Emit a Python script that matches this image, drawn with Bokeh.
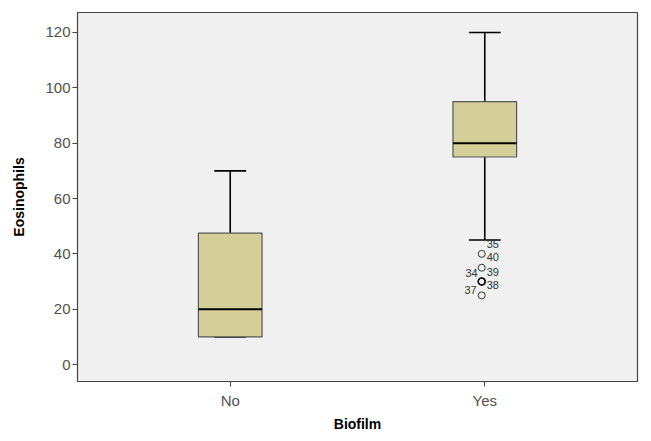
from bokeh.plotting import figure
from bokeh.models import Range1d, FixedTicker, ColumnDataSource
from bokeh.core.properties import value
from bokeh.embed import file_html
from bokeh.resources import INLINE

categories = ["No", "Yes"]
q1 = [10, 75]
median = [20, 80]
q3 = [47.5, 95]
whisker_low = [10, 45]
whisker_high = [70, 120]

outlier_values = [40, 35, 30, 25]
outlier_group = ["Yes", "Yes", "Yes", "Yes"]

label_text = ["35", "40", "34", "39", "38", "37"]
label_value = [40, 40, 35, 35, 30, 25]

# pixel styling for case labels (align, x offset, y offset)
label_style = {
    "35": ("left", 5, -10),
    "40": ("left", 5, 3),
    "34": ("right", -4, 5),
    "39": ("left", 5, 4),
    "38": ("left", 5, 3),
    "37": ("right", -5, -5),
}

xs = [categories.index(c) for c in categories]
box_w = 0.25
cap_w = 0.125

p = figure(width=643, height=435, output_backend="svg", toolbar_location=None,
           x_range=Range1d(-0.6, 1.6), y_range=Range1d(-6.1, 127.2),
           min_border_left=77, min_border_right=6, min_border_top=12, min_border_bottom=54,
           background_fill_color="#f0f0f0", border_fill_color="white")
p.outline_line_color = "#444444"
p.outline_line_width = 1.2
p.grid.visible = False

src = ColumnDataSource(dict(x=xs, q1=q1, q3=q3, med=median, lo=whisker_low, hi=whisker_high,
                            x0=[x - box_w / 2 for x in xs], x1=[x + box_w / 2 for x in xs],
                            c0=[x - cap_w / 2 for x in xs], c1=[x + cap_w / 2 for x in xs]))

p.segment(x0="x", y0="q3", x1="x", y1="hi", source=src, line_color="black", line_width=1.6)
p.segment(x0="x", y0="q1", x1="x", y1="lo", source=src, line_color="black", line_width=1.6)
p.segment(x0="c0", y0="hi", x1="c1", y1="hi", source=src, line_color="black", line_width=1.6)
p.segment(x0="c0", y0="lo", x1="c1", y1="lo", source=src, line_color="black", line_width=1.6)
p.vbar(x="x", width=box_w, bottom="q1", top="q3", source=src,
       fill_color="#d4cf98", line_color="#555555", line_width=1.2)
p.segment(x0="x0", y0="med", x1="x1", y1="med", source=src, line_color="black", line_width=2)

ox = [categories.index(g) - 0.012 for g in outlier_group]
p.scatter(x=ox, y=outlier_values, marker="circle", size=7, fill_color="#f0f0f0",
          line_color="#333333", line_width=1)
p.scatter(x=[ox[2]], y=[outlier_values[2]], marker="circle", size=7, fill_color=None,
          line_color="black", line_width=1.6)

yes_x = categories.index("Yes") - 0.012
lsrc = ColumnDataSource(dict(
    x=[yes_x] * len(label_text), y=label_value, t=label_text,
    a=[label_style[t][0] for t in label_text],
    xo=[label_style[t][1] for t in label_text],
    yo=[label_style[t][2] for t in label_text]))
p.text(x="x", y="y", text="t", source=lsrc, text_align="a", x_offset="xo", y_offset="yo",
       text_baseline="middle", text_font=value("Liberation Sans"), text_font_size="11px",
       text_color="#333333")

p.xaxis.ticker = FixedTicker(ticks=xs)
p.xaxis.major_label_overrides = {x: c for x, c in zip(xs, categories)}
p.yaxis.ticker = FixedTicker(ticks=[0, 20, 40, 60, 80, 100, 120])
for ax in (p.xaxis, p.yaxis):
    ax.axis_line_color = "#444444"
    ax.major_tick_line_color = "#444444"
    ax.major_tick_out = 5
    ax.major_tick_in = 0
    ax.minor_tick_line_color = None
    ax.major_label_text_font = "Liberation Sans"
    ax.major_label_text_font_size = "15px"
    ax.major_label_text_color = "#505050"
    ax.axis_label_text_font = "Liberation Sans"
    ax.axis_label_text_font_size = "14px"
    ax.axis_label_text_font_style = "bold"
    ax.axis_label_text_color = "black"
p.xaxis.axis_label = "Biofilm"
p.yaxis.axis_label = "Eosinophils"
p.xaxis.major_label_standoff = 5
p.yaxis.major_label_standoff = 2
p.xaxis.axis_label_standoff = 4
p.yaxis.axis_label_standoff = 15

open("out.html", "w").write(file_html(p, INLINE))
